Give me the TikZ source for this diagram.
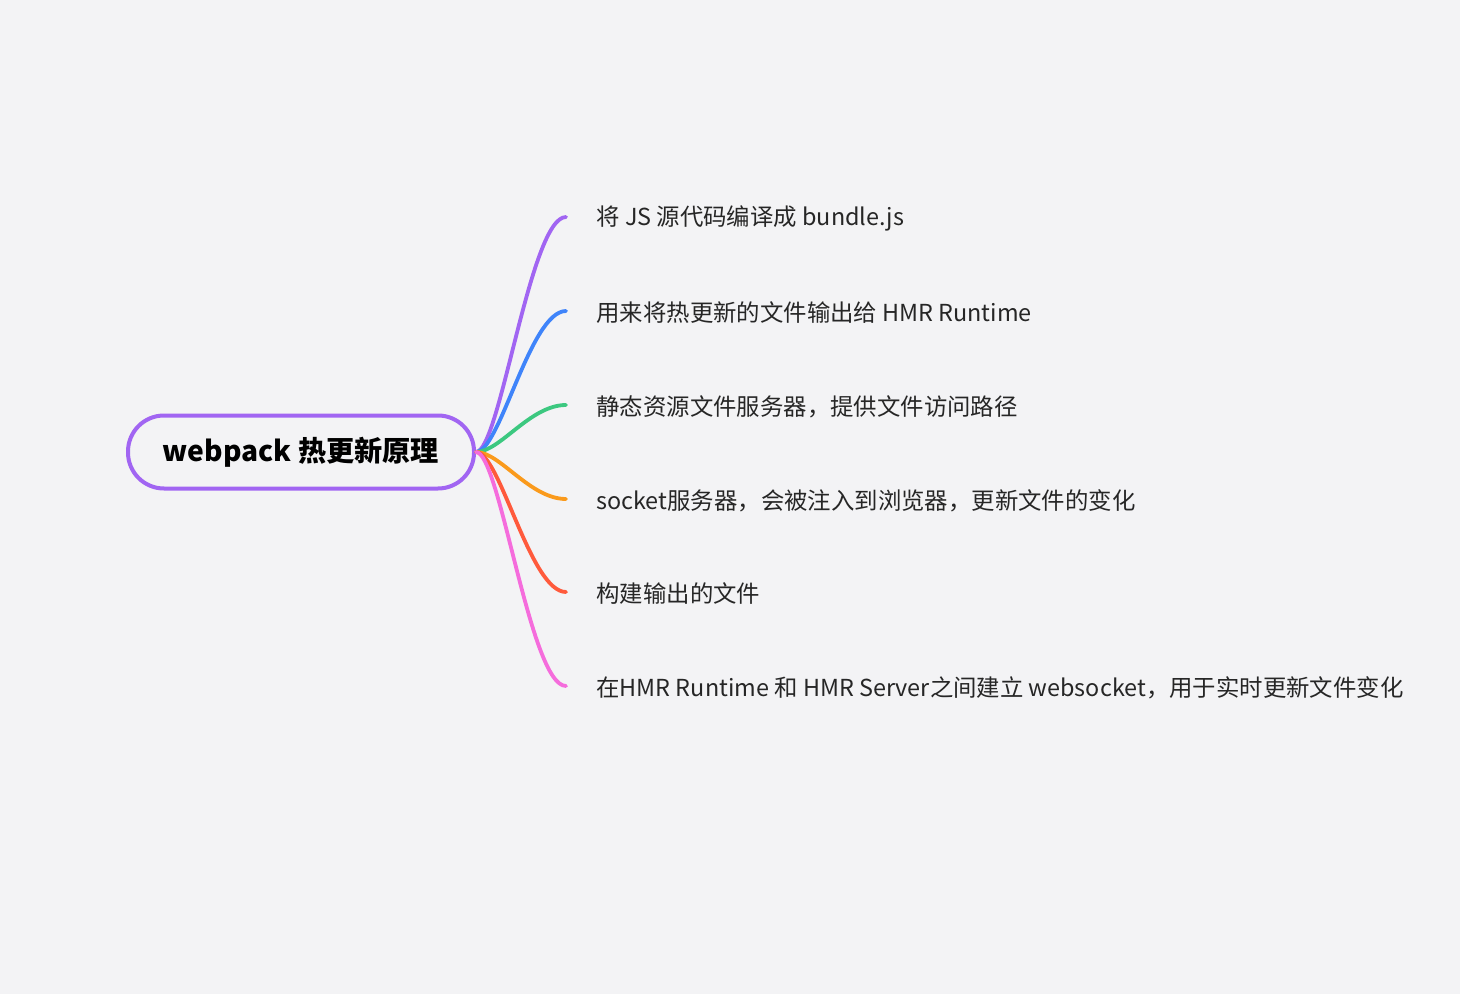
\documentclass[tikz,border=0pt]{standalone}
\usepackage{fontspec}
\setmainfont{Noto Sans CJK SC}
\usetikzlibrary{positioning,calc}
\definecolor{bgcol}{RGB}{243,243,245}
\definecolor{mmpurple}{RGB}{161,101,242}
\definecolor{mmblue}{RGB}{63,132,250}
\definecolor{mmgreen}{RGB}{60,200,128}
\definecolor{mmorange}{RGB}{250,154,28}
\definecolor{mmred}{RGB}{255,90,60}
\definecolor{mmpink}{RGB}{245,108,220}
\definecolor{leaftext}{RGB}{38,38,38}
\tikzset{
  rootnode/.style={draw=mmpurple, line width=2pt, rounded corners=18pt,
    minimum width=173pt, minimum height=36.5pt, inner sep=0pt,
    font=\fontsize{14.1}{17}\selectfont\bfseries},
  leafnode/.style={anchor=west, inner sep=0pt, text=leaftext,
    font=\fontsize{11.7}{14}\selectfont},
  branch/.style={line width=1.9pt, line cap=round}
}
\begin{document}
\begin{tikzpicture}[x=0.5pt,y=-0.5pt]
\fill[bgcol] (0,0) rectangle (1460,994);
\useasboundingbox (0,0) rectangle (1460,994);
\node[rootnode] (root) at (301,452) {\raisebox{-1pt}{webpack 热更新原理}};
\foreach \y/\c/\t [count=\i] in {
  217/mmpurple/{将 JS 源代码编译成 bundle.js},
  311/mmblue/{用来将热更新的文件输出给 HMR Runtime},
  405/mmgreen/{静态资源文件服务器，提供文件访问路径},
  499/mmorange/{socket服务器，会被注入到浏览器，更新文件的变化},
  592/mmred/{构建输出的文件},
  686/mmpink/{在HMR Runtime 和 HMR Server之间建立 websocket，用于实时更新文件变化}} {
  \coordinate (e\i) at (566,\y);
  \node[leafnode] (b\i) at (596,\y+1.5) {\t};
  \draw[branch,\c] (root.east) .. controls ($(root.east)+(24,0)$) and ($(e\i)+(-36,0)$) .. (e\i);
}
\end{tikzpicture}
\end{document}
